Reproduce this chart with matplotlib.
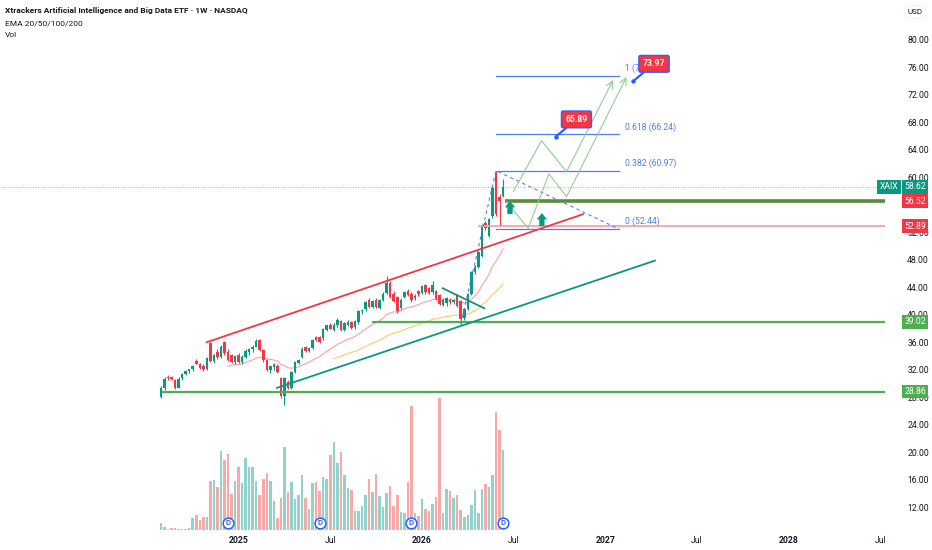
import numpy as np
import pandas as pd
import matplotlib
matplotlib.use("Agg")
import matplotlib.pyplot as plt
from matplotlib import transforms

plt.rcParams['font.family'] = ['Roboto', 'DejaVu Sans']

# weekly candles, first bar = week of 2024-07-29
START = pd.Timestamp("2024-07-29")
opens = [28.1, 29.3, 31.0, 30.9, 30.6, 29.4, 30.8, 31.4, 31.8, 32.1,
         33.3, 32.9, 32.6, 32.1, 35.9, 33.3, 34.6, 33.9, 36.0, 34.6,
         34.1, 33.2, 34.2, 33.2, 33.9, 34.6, 35.0, 35.4, 36.3, 34.9,
         33.4, 32.0, 32.4, 32.6, 30.8, 28.2, 30.2, 29.4, 31.7, 33.0,
         33.9, 35.3, 34.8, 35.2, 36.8, 36.8, 36.6, 37.8, 38.6, 37.8,
         38.5, 39.1, 37.8, 38.6, 39.0, 38.2, 38.9, 40.5, 40.8, 42.1,
         41.2, 42.2, 41.0, 42.2, 43.2, 44.7, 43.1, 42.6, 41.0, 42.6,
         43.5, 43.0, 42.4, 43.4, 43.2, 44.3, 43.9, 43.3, 43.4, 42.9,
         41.5, 41.7, 42.2, 41.8, 42.9, 42.0, 39.6, 40.9, 43.1, 46.3,
         47.0, 48.6, 53.3, 51.5, 54.3, 60.6, 57.2, 57.3]
highs = [29.6, 31.0, 31.3, 31.1, 30.7, 30.9, 31.5, 32.0, 32.2, 32.7,
         33.6, 33.0, 32.8, 33.9, 36.1, 34.3, 35.0, 35.6, 36.2, 35.1,
         34.3, 34.2, 34.4, 34.1, 35.0, 35.2, 35.6, 36.5, 36.5, 35.0,
         33.6, 32.7, 33.0, 32.8, 31.0, 31.0, 30.5, 31.8, 33.3, 33.6,
         35.3, 35.5, 35.4, 36.5, 37.0, 37.0, 38.1, 38.6, 38.8, 38.8,
         39.5, 39.3, 39.0, 39.2, 39.1, 39.3, 40.7, 40.9, 42.0, 42.4,
         42.2, 42.4, 42.3, 43.3, 45.6, 44.9, 43.4, 42.7, 42.4, 43.5,
         43.8, 43.3, 43.0, 43.6, 44.4, 44.5, 44.1, 44.9, 43.6, 43.1,
         42.4, 42.6, 42.4, 42.3, 43.1, 42.2, 41.0, 43.2, 46.4, 47.2,
         49.3, 53.2, 53.6, 54.1, 58.7, 60.97, 57.6, 59.8]
lows = [27.9, 29.1, 30.6, 30.5, 29.2, 29.3, 30.6, 31.3, 31.6, 31.9,
        32.8, 32.1, 31.9, 32.0, 33.1, 33.0, 33.6, 33.7, 34.2, 33.3,
        33.0, 32.9, 33.0, 32.8, 33.7, 34.2, 34.6, 35.3, 34.7, 33.2,
        31.8, 31.6, 32.0, 31.5, 27.9, 26.9, 29.2, 29.2, 31.5, 32.8,
        33.7, 34.6, 34.6, 35.0, 36.2, 35.9, 36.4, 37.6, 37.9, 37.6,
        38.3, 37.6, 37.6, 38.4, 37.9, 38.0, 38.7, 40.2, 40.6, 41.0,
        41.0, 41.0, 40.8, 42.0, 43.0, 42.4, 41.8, 40.3, 40.8, 42.4,
        42.7, 41.9, 42.2, 42.8, 43.0, 43.1, 43.0, 43.1, 42.1, 41.4,
        41.3, 41.3, 41.6, 41.6, 41.1, 38.64, 39.3, 40.7, 42.9, 46.0,
        46.8, 48.4, 52.4, 51.3, 54.1, 54.3, 52.9, 57.1]
closes = [29.4, 30.7, 30.8, 30.7, 29.3, 30.7, 31.4, 31.9, 32.1, 32.6,
          32.9, 32.3, 32.1, 33.8, 33.3, 34.1, 33.9, 35.4, 34.4, 33.5,
          33.2, 34.0, 33.2, 33.9, 34.8, 35.0, 35.4, 36.2, 34.9, 33.4,
          32.0, 32.5, 32.8, 31.7, 28.2, 30.8, 29.4, 31.7, 33.2, 33.4,
          35.1, 34.8, 35.2, 36.3, 36.4, 36.1, 37.9, 38.5, 38.0, 38.6,
          39.3, 37.8, 38.8, 39.0, 38.1, 39.1, 40.5, 40.7, 41.9, 41.2,
          42.0, 41.2, 42.1, 43.1, 44.6, 42.6, 42.0, 40.5, 42.2, 43.3,
          42.9, 42.1, 42.8, 43.0, 44.2, 43.3, 43.2, 44.4, 42.3, 41.6,
          42.2, 42.4, 41.8, 42.1, 41.3, 39.4, 40.8, 43.0, 46.2, 47.0,
          49.1, 53.0, 52.6, 53.9, 58.5, 54.6, 56.5, 58.62]
volumes = [20, 8, 3, 5, 5, 4, 4, 3, 5, 36,
           46, 30, 38, 40, 146, 150, 128, 238, 211, 228,
           108, 146, 188, 140, 216, 188, 188, 146, 105, 153,
           170, 146, 88, 36, 96, 248, 113, 143, 93, 104,
           164, 96, 63, 142, 143, 117, 160, 152, 225, 264,
           202, 234, 165, 126, 120, 58, 58, 72, 106, 152,
           114, 168, 102, 70, 110, 132, 72, 105, 54, 50,
           144, 372, 50, 41, 93, 63, 58, 78, 100, 396,
           51, 122, 116, 96, 104, 60, 38, 46, 76, 120,
           51, 124, 138, 130, 165, 354, 301, 240]
dividend_bars = [19, 45, 71, 97]

# horizontal levels (price, first bar)
level_prices = [28.86, 39.02, 56.52, 52.89]
level_start = [0, 59.7, 97.5, 90]
level_colors = ['#4caf50', '#4caf50', '#5d8b35', '#f7a3aa']
level_widths = [1.6, 1.6, 2.6, 1.3]
level_tag_colors = ['#4caf50', '#4caf50', '#f23645', '#f23645']

# trend lines (bar, price)
red_channel = [(13.0, 36.03), (119.65, 54.63)]
green_channel = [(32.9, 29.39), (140.06, 47.89)]
wedge_line = [(79.87, 43.87), (91.67, 40.96)]

# fib extension anchors A, B, C and levels
fib_a = (85, 38.64)
fib_b = (95, 60.97)
fib_c = (130, 52.44)
fib_ratios = [0, 0.382, 0.618, 1]

# projected paths
path_1 = [(99.9, 57.91), (107.9, 65.32), (115.0, 60.81), (128.2, 74.14)]
path_2 = [(98.0, 56.45), (104.1, 52.59), (110.0, 60.48), (115.0, 57.18), (132.0, 74.58)]

# up arrows (bar, base, tip)
up_arrows = [(98.95, 54.64, 56.53), (108.0, 52.92, 54.78)]

# price callouts (bar, price)
callouts = [(111.9, 65.89), (133.9, 73.97)]

last_price = closes[-1]

GREEN = '#089981'
RED = '#f23645'
BLUE = '#2962ff'
FIB_BLUE = '#4f7ef0'
FS = 6.2

n = len(closes)
x = np.arange(n)
o = np.array(opens)
c = np.array(closes)
up = c >= o

fig = plt.figure(figsize=(9.32, 5.5), dpi=100)
ax = fig.add_axes([0, 20 / 550, 885 / 932, 530 / 550])
axv = ax.twinx()
ax.set_zorder(axv.get_zorder() + 1)
ax.patch.set_visible(False)

# volume
vol_colors = np.where(up, '#92d2cc', '#f7a9a7')
axv.bar(x, volumes, width=0.72, color=vol_colors, linewidth=0)
axv.set_ylim(0, max(volumes) / 0.249)
axv.set_yticks([])
for s in axv.spines.values():
    s.set_visible(False)

# candles
cc = np.where(up, GREEN, RED)
ax.vlines(x, lows, highs, colors=cc, linewidth=0.8, zorder=3)
ax.bar(x, np.maximum(np.abs(c - o), 0.1), bottom=np.minimum(o, c), width=0.72,
       color=cc, linewidth=0, zorder=3)

# EMAs
ema20 = pd.Series(closes).ewm(span=20, adjust=False, min_periods=20).mean()
ema50 = pd.Series(closes).ewm(span=50, adjust=False, min_periods=50).mean()
ax.plot(x, ema20, color='#f7525f', alpha=0.55, lw=0.8, zorder=2)
ax.plot(x, ema50, color='#ff9800', alpha=0.55, lw=0.8, zorder=2)

x_left = -45.65
x_right = 205.3
ax.set_xlim(x_left, x_right)
ax.set_ylim(8.73, 85.77)

# levels
for p, s, col, lw in zip(level_prices, level_start, level_colors, level_widths):
    ax.plot([s, x_right], [p, p], color=col, lw=lw, zorder=4, solid_capstyle='butt')

# trend lines
for line, col in [(red_channel, '#f23645'), (green_channel, GREEN), (wedge_line, GREEN)]:
    xs, ys = zip(*line)
    ax.plot(xs, ys, color=col, lw=1.3, zorder=4)

# fib extension
ax.plot([fib_a[0], fib_b[0], fib_c[0]], [fib_a[1], fib_b[1], fib_c[1]],
        color=FIB_BLUE, lw=0.8, ls=(0, (3, 3)), zorder=4)
span = fib_b[1] - fib_a[1]
for r in fib_ratios:
    lv = fib_c[1] + r * span
    ax.plot([fib_b[0], fib_c[0]], [lv, lv], color=FIB_BLUE, lw=0.9, zorder=4)
    ax.annotate(f"{r:g} ({lv:.2f})", (fib_c[0] + 1.6, lv), xytext=(0, 5.5),
                textcoords='offset points', va='center', ha='left',
                color=FIB_BLUE, fontsize=FS, zorder=5)

# projected paths
for path in (path_1, path_2):
    xs, ys = zip(*path)
    ax.plot(xs[:-1], ys[:-1], color='#8fcf8f', lw=0.8, zorder=4)
    ax.annotate('', xy=path[-1], xytext=path[-2],
                arrowprops=dict(arrowstyle='->,head_length=0.5,head_width=0.25',
                                color='#8fcf8f', lw=0.8, shrinkA=0, shrinkB=0), zorder=4)

# block arrows
for bx, b0, b1 in up_arrows:
    ax.annotate('', xy=(bx, b1), xytext=(bx, b0),
                arrowprops=dict(arrowstyle='simple,head_length=0.45,head_width=0.75,tail_width=0.38',
                                fc=GREEN, ec=GREEN, lw=0, mutation_scale=10,
                                shrinkA=0, shrinkB=0), zorder=6)

# callouts
for bx, p in callouts:
    ax.plot([bx], [p], 'o', color=BLUE, ms=2.2, zorder=7)
    ax.annotate(f"{p:.2f}", (bx, p), xytext=(15, 12.5), textcoords='offset points',
                ha='center', va='center', color='white', fontsize=FS, fontweight='bold',
                bbox=dict(boxstyle='round,pad=0.45,rounding_size=0.2', fc=RED, ec=BLUE, lw=1),
                arrowprops=dict(arrowstyle='-', color=BLUE, lw=1.6, shrinkA=0, shrinkB=0),
                zorder=7)

# last price line
ax.axhline(last_price, color='#26a69a', alpha=0.8, lw=0.6, ls=(0, (1, 2)), zorder=2)

# dividends
yd = 9.75
ax.scatter(dividend_bars, [yd] * len(dividend_bars), s=60, facecolor='white',
           edgecolor=BLUE, linewidth=1.1, zorder=8)
for b in dividend_bars:
    ax.text(b, yd, 'D', color=BLUE, fontsize=5.6, fontweight='bold',
            ha='center', va='center', zorder=9)

# axes styling
for s in ax.spines.values():
    s.set_visible(False)
ax.yaxis.tick_right()
yt = np.arange(12, 81, 4)
ax.set_yticks(yt)
ax.set_yticklabels([f"{v:.2f}" for v in yt])
ax.tick_params(axis='y', length=0, pad=16, labelsize=FS, labelcolor='#131722')

tick_dates = pd.to_datetime(['2025-01-01', '2025-07-01', '2026-01-01', '2026-07-01',
                             '2027-01-01', '2027-07-01', '2028-01-01', '2028-07-01'])
tick_pos = [(d - START).days // 7 for d in tick_dates]
tick_lab = [str(d.year) if d.month == 1 else 'Jul' for d in tick_dates]
ax.set_xticks(tick_pos)
ax.set_xticklabels(tick_lab)
ax.tick_params(axis='x', length=0, pad=4, labelsize=FS, labelcolor='#131722')
for t in ax.get_xticklabels():
    if t.get_text() != 'Jul':
        t.set_fontweight('bold')

# right-scale tags
trans = transforms.blended_transform_factory(ax.transAxes, ax.transData)
tag_x = 915 / 885
for p, col in zip(level_prices, level_tag_colors):
    ax.text(tag_x, p, f"{p:.2f}", transform=trans, ha='center', va='center', color='white',
            fontsize=FS, zorder=10, clip_on=False,
            bbox=dict(boxstyle='square,pad=0.28', fc=col, ec='none'))
ax.text(tag_x, last_price, f"{last_price:.2f}", transform=trans, ha='center', va='center',
        color='white', fontsize=FS, zorder=10, clip_on=False,
        bbox=dict(boxstyle='square,pad=0.28', fc=GREEN, ec='none'))
ax.text(889 / 885, last_price, "XAIX", transform=trans, ha='center', va='center',
        color='white', fontsize=FS, zorder=10, clip_on=False,
        bbox=dict(boxstyle='square,pad=0.28', fc=GREEN, ec='none'))

fig.text(915 / 932, 1 - 12 / 550, "USD", ha='center', va='center', fontsize=5.8, color='#131722',
         bbox=dict(boxstyle='round,pad=0.4,rounding_size=0.3', fc='white', ec='#eef0f4', lw=0.6))

# header
fig.text(5 / 932, 1 - 11 / 550, "Xtrackers Artificial Intelligence and Big Data ETF · 1W · NASDAQ",
         fontsize=6.0, fontweight='bold', color='#131722', va='center')
fig.text(5 / 932, 1 - 23 / 550, "EMA 20/50/100/200", fontsize=6.0, color='#131722', va='center')
fig.text(5 / 932, 1 - 35 / 550, "Vol", fontsize=6.0, color='#131722', va='center')

fig.savefig("out.png", dpi=100, facecolor='white')
